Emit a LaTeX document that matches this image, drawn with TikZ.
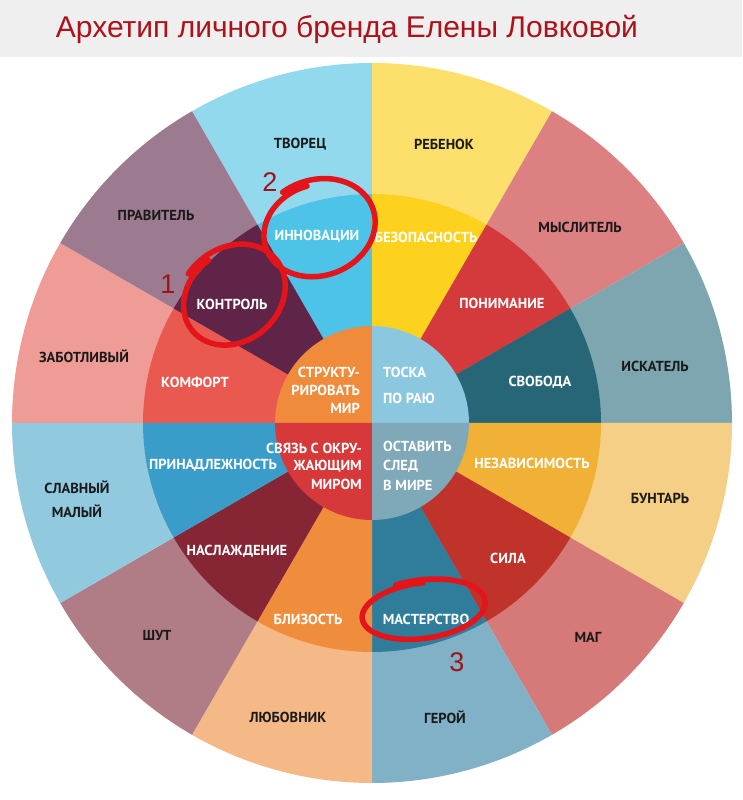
\documentclass[tikz,border=0pt]{standalone}
\usepackage{fontspec}
\setmainfont{Liberation Sans}
\newfontfamily\labfont{PT Sans}
\definecolor{titlered}{HTML}{AD111A}
\definecolor{band}{HTML}{EFEFEF}
\definecolor{markred}{HTML}{E3151B}
\definecolor{numred}{HTML}{9E1418}
\definecolor{darktext}{HTML}{1A1A1A}
% outer ring
\definecolor{oTvorec}{HTML}{93D9EE}
\definecolor{oRebenok}{HTML}{FDE06B}
\definecolor{oMysl}{HTML}{DD8082}
\definecolor{oIskat}{HTML}{7DA6B1}
\definecolor{oBunt}{HTML}{F6CF86}
\definecolor{oMag}{HTML}{D57A78}
\definecolor{oGeroy}{HTML}{80B1C6}
\definecolor{oLyub}{HTML}{F5B988}
\definecolor{oShut}{HTML}{B07D86}
\definecolor{oSlav}{HTML}{91C9DE}
\definecolor{oZabot}{HTML}{F09C96}
\definecolor{oPrav}{HTML}{9C7A8F}
% middle ring
\definecolor{mInnov}{HTML}{4DC3E8}
\definecolor{mBezop}{HTML}{FDD21E}
\definecolor{mPonim}{HTML}{D43A3C}
\definecolor{mSvob}{HTML}{276677}
\definecolor{mNezav}{HTML}{F1B136}
\definecolor{mSila}{HTML}{C0332B}
\definecolor{mMast}{HTML}{2F7D9A}
\definecolor{mBliz}{HTML}{EF8D3C}
\definecolor{mNasl}{HTML}{862635}
\definecolor{mPrin}{HTML}{3A9DC9}
\definecolor{mKomf}{HTML}{E9594F}
\definecolor{mKontr}{HTML}{5F2447}
% inner
\definecolor{iTL}{HTML}{EF8B3A}
\definecolor{iTR}{HTML}{8BC8DF}
\definecolor{iBL}{HTML}{D7393A}
\definecolor{iBR}{HTML}{7FA8B8}
\tikzset{
  outerlab/.style={font=\labfont\bfseries\fontsize{14.5}{16}\selectfont, text=darktext, inner sep=0pt},
  midlab/.style={font=\labfont\bfseries\fontsize{14.5}{16}\selectfont, text=white, inner sep=0pt},
  innerlab/.style={font=\labfont\bfseries\fontsize{14.5}{16}\selectfont, text=white, inner sep=0pt},
  marknum/.style={font=\fontsize{27}{30}\selectfont, text=numred, inner sep=0pt},
  redmark/.style={draw=markred, line width=5.5pt, line cap=round, line join=round}
}
\newcommand{\redloop}[5]{%
  \begin{scope}[shift={(#1,#2)}, rotate=#5]
    \draw[redmark] plot[smooth, samples=70, domain=0:1, variable=\s]
      ({(1.08-0.12*\s)*#3*cos(110-385*\s)}, {(1.08-0.12*\s)*#4*sin(110-385*\s)});
  \end{scope}}
\begin{document}
\begin{tikzpicture}[x=1pt,y=1pt]
\useasboundingbox (0,0) rectangle (742,800);
\fill[white] (0,0) rectangle (742,800);
\fill[band] (0,743) rectangle (742,800);
\node[font=\fontsize{30}{34}\selectfont, text=titlered, inner sep=0pt] (title) at (347,771) {Архетип личного бренда Елены Ловковой};

\coordinate (O) at (372,377);
% outer ring
\foreach \a/\c in {90/oTvorec,60/oRebenok,30/oMysl,0/oIskat,-30/oBunt,-60/oMag,-90/oGeroy,-120/oLyub,-150/oShut,180/oSlav,150/oZabot,120/oPrav}{
  \fill[\c] (O) -- ++(\a:360) arc[start angle=\a, end angle=\a+30, radius=360] -- cycle;
}
% middle ring
\foreach \a/\c in {90/mInnov,60/mBezop,30/mPonim,0/mSvob,-30/mNezav,-60/mSila,-90/mMast,-120/mBliz,-150/mNasl,180/mPrin,150/mKomf,120/mKontr}{
  \fill[\c] (O) -- ++(\a:229) arc[start angle=\a, end angle=\a+30, radius=229] -- cycle;
}
% inner circle
\foreach \a/\c in {90/iTL,0/iTR,180/iBL,-90/iBR}{
  \fill[\c] (O) -- ++(\a:97) arc[start angle=\a, end angle=\a+90, radius=97] -- cycle;
}

% outer labels
\node[outerlab] (tvorec) at (300,800-144) {ТВОРЕЦ};
\node[outerlab] (rebenok) at (444,800-144) {РЕБЕНОК};
\node[outerlab] (myslitel) at (580,800-227) {МЫСЛИТЕЛЬ};
\node[outerlab] (iskatel) at (655,800-366) {ИСКАТЕЛЬ};
\node[outerlab] (buntar) at (660,800-498) {БУНТАРЬ};
\node[outerlab] (mag) at (588,800-637) {МАГ};
\node[outerlab] (geroy) at (445,800-717) {ГЕРОЙ};
\node[outerlab] (lyubovnik) at (288,800-717) {ЛЮБОВНИК};
\node[outerlab] (shut) at (157,800-635) {ШУТ};
\node[outerlab] (slavny) at (77,800-487) {СЛАВНЫЙ};
\node[outerlab] (maly) at (77,800-511) {МАЛЫЙ};
\node[outerlab] (zabotlivy) at (84,800-356) {ЗАБОТЛИВЫЙ};
\node[outerlab] (pravitel) at (156,800-215) {ПРАВИТЕЛЬ};

% middle labels
\node[midlab] (innov) at (317,800-236) {ИННОВАЦИИ};
\node[midlab] (bezop) at (426,800-237) {БЕЗОПАСНОСТЬ};
\node[midlab] (ponim) at (502,800-303) {ПОНИМАНИЕ};
\node[midlab] (svoboda) at (540,800-382) {СВОБОДА};
\node[midlab] (nezav) at (532,800-463) {НЕЗАВИСИМОСТЬ};
\node[midlab] (sila) at (508,800-558) {СИЛА};
\node[midlab] (master) at (426,800-619) {МАСТЕРСТВО};
\node[midlab] (blizost) at (308,800-619) {БЛИЗОСТЬ};
\node[midlab] (naslazh) at (237,800-551) {НАСЛАЖДЕНИЕ};
\node[midlab] (prinadl) at (213,800-465) {ПРИНАДЛЕЖНОСТЬ};
\node[midlab] (komfort) at (195,800-382) {КОМФОРТ};
\node[midlab] (kontrol) at (232,800-304) {КОНТРОЛЬ};

% inner labels
\node[innerlab, anchor=east] (s1) at (360,800-372) {СТРУКТУ-};
\node[innerlab, anchor=east] (s2) at (360,800-390) {РИРОВАТЬ};
\node[innerlab, anchor=east] (s3) at (360,800-408) {МИР};
\node[innerlab, anchor=west] (t1) at (383,800-372) {ТОСКА};
\node[innerlab, anchor=west] (t2) at (383,800-398) {ПО РАЮ};
\node[innerlab, anchor=east] (c1) at (362,800-448) {СВЯЗЬ С ОКРУ-};
\node[innerlab, anchor=east] (c2) at (362,800-466) {ЖАЮЩИМ};
\node[innerlab, anchor=east] (c3) at (362,800-484) {МИРОМ};
\node[innerlab, anchor=west] (l1) at (383,800-446) {ОСТАВИТЬ};
\node[innerlab, anchor=west] (l2) at (383,800-466) {СЛЕД};
\node[innerlab, anchor=west] (l3) at (383,800-485) {В МИРЕ};

% red hand-drawn marks
\redloop{318}{800-229}{56}{46}{20}
\redloop{233}{800-296}{54}{45}{40}
\redloop{422}{800-610}{61}{28}{8}
\node[marknum] (n1) at (168,800-284) {1};
\node[marknum] (n2) at (270,800-182) {2};
\node[marknum] (n3) at (457,800-662) {3};
\end{tikzpicture}
\end{document}
